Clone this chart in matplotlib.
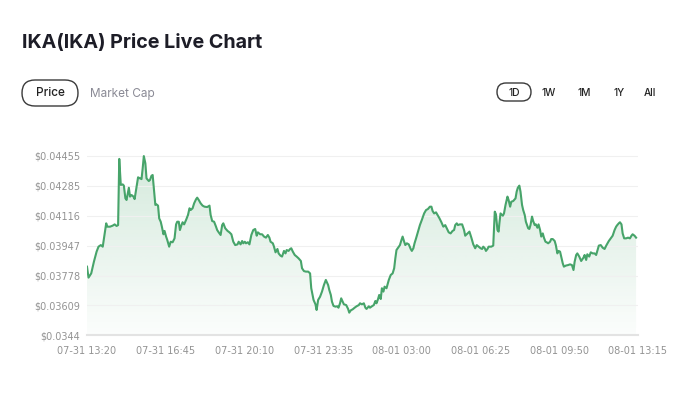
import numpy as np
import matplotlib
matplotlib.use("Agg")
import matplotlib.pyplot as plt
from matplotlib.patches import FancyBboxPatch, Polygon

# minutes after 07-31 13:20, price in USD
minutes = [
    0, 4, 11, 18, 25, 30, 36, 41, 46, 50, 53, 60, 67, 72, 77, 81, 84, 88, 93, 96,
    100, 103, 109, 112, 116, 121, 124, 129, 133, 138, 142, 145, 148, 152, 155, 161, 164, 168, 171, 174,
    178, 181, 185, 188, 192, 195, 199, 202, 206, 209, 213, 214, 218, 223, 228, 232, 235, 239, 242, 246,
    249, 253, 258, 263, 267, 270, 275, 279, 284, 287, 291, 296, 301, 306, 313, 319, 322, 326, 331, 336,
    339, 343, 348, 352, 355,
    360, 366, 371, 376, 381, 386, 392, 395, 400, 404, 407, 411, 414, 419, 423, 428, 433, 438, 442, 445,
    451, 456, 461, 466, 471, 475, 478, 484, 487, 491, 496, 499, 504, 508, 513, 517, 520, 525, 529, 532,
    536, 541, 546, 551, 557, 560, 565, 570, 576, 581, 584, 590, 595, 598, 602, 607, 612, 617, 622, 628,
    631, 635, 638, 642, 647, 652, 655, 659, 662, 666, 669, 675, 680, 683, 687, 692, 697, 702, 708, 711, 716,
    721, 725, 728, 734, 737, 742, 747, 751, 754, 758, 761, 765, 768, 772, 775, 780, 786, 791, 796, 800,
    803, 806, 812, 815, 819, 822, 826, 829, 833, 838, 843, 846, 850, 853, 857, 862, 867, 872, 878, 883,
    888, 893, 897, 900, 904, 909, 914, 918, 923, 928, 933, 937, 942, 947, 952, 956, 959, 963, 966, 971,
    977, 982, 985, 991, 996, 1001, 1006, 1011, 1015, 1020, 1025, 1029, 1032, 1036, 1039, 1043, 1046, 1053,
    1058, 1062, 1065, 1069, 1072,
    1074, 1077, 1083, 1086, 1090, 1095, 1098, 1102, 1105, 1110, 1116, 1119, 1122, 1126, 1129, 1133, 1136,
    1140, 1143, 1149, 1152, 1155, 1159, 1162, 1166, 1169, 1173, 1176, 1180, 1183, 1187, 1190, 1194, 1197,
    1201, 1206, 1209, 1213, 1218, 1221, 1225, 1228, 1232, 1235, 1239, 1242, 1247, 1253, 1258, 1263, 1267,
    1270, 1274, 1277, 1282, 1287, 1293, 1296, 1300, 1303, 1308, 1312, 1317, 1322, 1326, 1329, 1333, 1338,
    1343, 1348, 1353, 1359, 1364, 1369, 1374, 1378, 1381, 1385, 1388, 1392, 1395, 1399, 1404, 1409, 1414,
    1418, 1421, 1426, 1430,
]
prices = [
    0.03828, 0.03766, 0.03790, 0.03856, 0.03913, 0.03941, 0.03950, 0.03941, 0.04016, 0.04073,
    0.04054, 0.04054, 0.04060, 0.04067, 0.04058, 0.04063, 0.04437, 0.04290, 0.04293, 0.04286,
    0.04214, 0.04205, 0.04274, 0.04224, 0.04233, 0.04224, 0.04210, 0.04280, 0.04333, 0.04327,
    0.04323, 0.04384, 0.04453, 0.04412, 0.04327, 0.04312, 0.04318, 0.04342, 0.04346, 0.04271,
    0.04177, 0.04180, 0.04173, 0.04101, 0.04082, 0.04054, 0.04011, 0.04030, 0.03998, 0.03979,
    0.03950, 0.03941, 0.03969, 0.03966, 0.03988, 0.04067, 0.04082, 0.04082, 0.04035, 0.04063,
    0.04079, 0.04067, 0.04092, 0.04120, 0.04158, 0.04148, 0.04158, 0.04186, 0.04209, 0.04218,
    0.04205, 0.04186, 0.04173, 0.04167, 0.04165, 0.04173, 0.04120, 0.04086, 0.04082, 0.04054,
    0.04035, 0.04022, 0.04007, 0.04063, 0.04073,
    0.04045, 0.04030, 0.04022, 0.04011, 0.03969, 0.03950, 0.03954, 0.03969, 0.03954, 0.03973,
    0.03960, 0.03969, 0.03960, 0.03966, 0.03954, 0.04007, 0.04035, 0.04041, 0.04003, 0.04022,
    0.04011, 0.04011, 0.03998, 0.03992, 0.04007, 0.03992, 0.03969, 0.03960, 0.03941, 0.03909,
    0.03928, 0.03903, 0.03890, 0.03885, 0.03917, 0.03903, 0.03922, 0.03917, 0.03928, 0.03932,
    0.03913, 0.03894, 0.03885, 0.03875, 0.03860, 0.03819, 0.03803, 0.03800, 0.03800, 0.03790,
    0.03706, 0.03640, 0.03615, 0.03583, 0.03640, 0.03658, 0.03687, 0.03724, 0.03753, 0.03724,
    0.03696, 0.03668, 0.03630, 0.03606, 0.03602, 0.03604, 0.03596, 0.03621, 0.03649, 0.03630,
    0.03615, 0.03611, 0.03589, 0.03568, 0.03581, 0.03587, 0.03596, 0.03604, 0.03611, 0.03621, 0.03615,
    0.03621, 0.03596, 0.03589, 0.03604, 0.03596, 0.03604, 0.03611, 0.03634, 0.03621, 0.03645,
    0.03668, 0.03645, 0.03706, 0.03687, 0.03715, 0.03706, 0.03753, 0.03781, 0.03790, 0.03819,
    0.03875, 0.03922, 0.03941, 0.03950, 0.03979, 0.03998, 0.03969, 0.03950, 0.03960, 0.03954,
    0.03928, 0.03917, 0.03932, 0.03960, 0.03988, 0.04026, 0.04063, 0.04092, 0.04129, 0.04148,
    0.04154, 0.04167, 0.04167, 0.04143, 0.04129, 0.04135, 0.04116, 0.04101, 0.04079, 0.04054,
    0.04063, 0.04045, 0.04022, 0.04016, 0.04030, 0.04035, 0.04063, 0.04073, 0.04063, 0.04067,
    0.04067, 0.04035, 0.04003, 0.04016, 0.04026, 0.03992, 0.03954, 0.03932, 0.03950, 0.03941,
    0.03932, 0.03928, 0.03941, 0.03932, 0.03917, 0.03928, 0.03941, 0.03941, 0.03947, 0.04139,
    0.04124, 0.04035, 0.04026,
    0.04073, 0.04129, 0.04116, 0.04129, 0.04177, 0.04224, 0.04205, 0.04167, 0.04195, 0.04199,
    0.04214, 0.04252, 0.04274, 0.04286, 0.04252, 0.04177, 0.04148, 0.04120, 0.04082, 0.04045,
    0.04041, 0.04063, 0.04111, 0.04086, 0.04063, 0.04067, 0.04048, 0.04067, 0.04035, 0.03998,
    0.04016, 0.03992, 0.03969, 0.03966, 0.03960, 0.03969, 0.03984, 0.03984, 0.03973, 0.03950,
    0.03903, 0.03917, 0.03913, 0.03885, 0.03847, 0.03828, 0.03834, 0.03837, 0.03841, 0.03837,
    0.03809, 0.03856, 0.03894, 0.03903, 0.03885, 0.03860, 0.03879, 0.03894, 0.03866, 0.03898,
    0.03885, 0.03909, 0.03903, 0.03903, 0.03894, 0.03917, 0.03947, 0.03950, 0.03935, 0.03928,
    0.03950, 0.03973, 0.03988, 0.04003, 0.04035, 0.04054, 0.04063, 0.04073, 0.04079, 0.04067,
    0.04016, 0.03988, 0.03988, 0.03992, 0.03988, 0.04003, 0.04011, 0.04003, 0.03992,
]

y_ticks = [0.0344, 0.03609, 0.03778, 0.03947, 0.04116, 0.04285, 0.04455]
y_labels = ["\\$0.0344", "\\$0.03609", "\\$0.03778", "\\$0.03947",
            "\\$0.04116", "\\$0.04285", "\\$0.04455"]
x_ticks = [0, 205, 410, 615, 820, 1025, 1230, 1435]
x_labels = ["07-31 13:20", "07-31 16:45", "07-31 20:10", "07-31 23:35",
            "08-01 03:00", "08-01 06:25", "08-01 09:50", "08-01 13:15"]
ranges = ["1D", "1W", "1M", "1Y", "All"]

n = min(len(minutes), len(prices))
minutes = minutes[:n]
prices = prices[:n]

green = "#47a46a"
ymin, ymax = 0.0344, 0.04475

fig = plt.figure(figsize=(6.8, 3.97), dpi=100)

# header drawn in pixel coordinates
hdr = fig.add_axes([0, 0, 1, 1])
hdr.set_xlim(0, 680)
hdr.set_ylim(397, 0)
hdr.axis("off")
hdr.text(22, 43, "IKA(IKA) Price Live Chart", fontsize=14.2, fontweight="bold",
         color="#1d1d27", ha="left", va="center", family="Inter")
hdr.add_patch(FancyBboxPatch((22, 80), 56, 26, boxstyle="round,pad=0,rounding_size=13",
                             fc="white", ec="#3a3a3a", lw=1))
hdr.text(50, 93.5, "Price", fontsize=8.5, fontweight="medium", color="#222222",
         ha="center", va="center", family="Inter")
hdr.text(90, 93.5, "Market Cap", fontsize=8.5, color="#8a8a95", ha="left", va="center", family="Inter")
hdr.add_patch(FancyBboxPatch((497, 83), 34, 18, boxstyle="round,pad=0,rounding_size=9",
                             fc="white", ec="#3a3a3a", lw=1))
for lab, xc in zip(ranges, [514, 549, 584, 619, 650]):
    hdr.text(xc, 92.5, lab, fontsize=7.3, fontweight="medium", color="#222222",
             ha="center", va="center", family="Inter")

ax = fig.add_axes([87 / 680, 1 - 335.3 / 397, 551 / 680, 183.1 / 397])
ax.set_facecolor("none")

# gradient fill under the line
grad = np.linspace(0, 1, 256).reshape(-1, 1)
rgba = np.zeros((256, 1, 4))
rgba[..., :3] = matplotlib.colors.to_rgb(green)
rgba[..., 3] = 0.02 + 0.22 * grad
im = ax.imshow(rgba, extent=[0, 1435, ymin, ymax], origin="lower", aspect="auto", zorder=1)
verts = [(minutes[0], ymin)] + list(zip(minutes, prices)) + [(minutes[-1], ymin)]
clip = Polygon(verts, closed=True, fc="none", ec="none", transform=ax.transData)
ax.add_patch(clip)
im.set_clip_path(clip)

ax.plot(minutes, prices, color=green, lw=1.5, zorder=3, solid_joinstyle="round")

ax.set_xlim(0, 1435)
ax.set_ylim(ymin, ymax)
ax.set_yticks(y_ticks)
ax.set_yticklabels(y_labels)
ax.set_xticks(x_ticks)
ax.set_xticklabels(x_labels)
ax.tick_params(length=0, labelsize=7, labelcolor="#939393")
ax.tick_params(axis="y", pad=5)
ax.tick_params(axis="x", pad=8)
ax.grid(axis="y", color="#f0f0f0", lw=0.8, zorder=0)
for s in ["top", "right", "left"]:
    ax.spines[s].set_visible(False)
ax.spines["bottom"].set_color("#e3e3e3")
ax.spines["bottom"].set_linewidth(1.5)

fig.savefig("out.png", dpi=100, facecolor="white")
